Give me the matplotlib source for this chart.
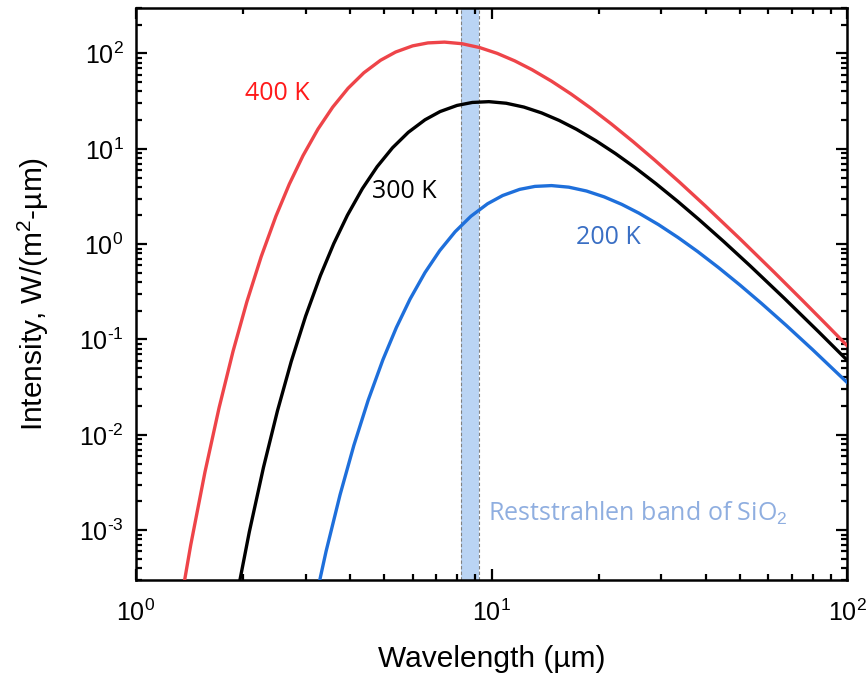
import matplotlib
matplotlib.use("Agg")
import matplotlib.pyplot as plt
from matplotlib.ticker import FixedLocator, NullFormatter, FuncFormatter
import math

# ---- data ----
wl_400 = [1.3, 1.425, 1.5625, 1.7125, 1.875, 2.05, 2.25, 2.475, 2.7, 2.95, 3.25, 3.575,
          3.95, 4.375, 4.875, 5.375, 6.0, 6.625, 7.375, 8.25, 9.25, 10.375, 11.625, 13.0,
          14.75, 16.75, 19.0, 21.75, 25.0, 28.75, 33.75, 40.0, 50.0, 62.5, 75.0, 87.5, 100.0]
I_400 = [9.70e-5, 6.94e-4, 4.04e-3, 1.918e-2, 7.526e-2, 0.2478, 0.7401, 1.965, 4.271, 8.483,
         16.11, 27.35, 43.18, 62.76, 84.93, 103.6, 120.2, 129.1, 131.6, 126.7, 115.5, 100.3,
         83.66, 67.60, 51.25, 37.53, 26.80, 18.19, 11.92, 7.637, 4.490, 2.507, 1.137, 0.5043,
         0.2562, 0.1435, 0.08643]

wl_300 = [1.7333, 1.9, 2.0833, 2.2833, 2.5, 2.7333, 3.0, 3.3, 3.6, 3.9333, 4.3333, 4.7667,
          5.2667, 5.8333, 6.5, 7.1667, 8.0, 8.8333, 9.8333, 11.0, 12.333, 13.833, 15.5,
          17.333, 19.667, 22.333, 25.333, 29.0, 33.333, 38.333, 45.0, 53.333, 66.667,
          83.333, 100.0]
I_300 = [2.302e-5, 1.647e-4, 9.583e-4, 4.551e-3, 1.786e-2, 5.880e-2, 0.1756, 0.4664, 1.0135,
         2.013, 3.823, 6.491, 10.25, 14.89, 20.15, 24.59, 28.52, 30.65, 31.24, 30.07, 27.41,
         23.80, 19.85, 16.04, 12.16, 8.905, 6.358, 4.316, 2.828, 1.812, 1.0656, 0.5948,
         0.2698, 0.1197, 0.0608]

wl_200 = [2.6, 2.85, 3.125, 3.425, 3.75, 4.1, 4.5, 4.95, 5.4, 5.9, 6.5, 7.15, 7.9, 8.75,
          9.75, 10.75, 12.0, 13.25, 14.75, 16.5, 18.5, 20.75, 23.25, 26.0, 29.5, 33.5, 38.0,
          43.5, 50.0, 57.5, 67.5, 80.0, 100.0]
I_200 = [3.031e-6, 2.169e-5, 1.262e-4, 5.993e-4, 2.352e-3, 7.742e-3, 2.313e-2, 6.141e-2,
         0.1335, 0.2651, 0.5033, 0.8547, 1.349, 1.961, 2.654, 3.237, 3.755, 4.035, 4.114,
         3.960, 3.609, 3.133, 2.614, 2.112, 1.602, 1.172, 0.8372, 0.5683, 0.3723, 0.2386,
         0.1403, 0.07832, 0.03552]

band = [8.2, 9.25]
labels = ["400 K", "300 K", "200 K"]
x_major = [1, 10, 100]
y_major = [1e-3, 1e-2, 1e-1, 1, 10, 100]

# ---- figure ----
plt.rcParams['font.family'] = ['Liberation Sans', 'DejaVu Sans']
plt.rcParams['mathtext.fontset'] = 'custom'
plt.rcParams['mathtext.rm'] = 'Liberation Sans'
plt.rcParams['mathtext.it'] = 'Liberation Sans:italic'

fig = plt.figure(figsize=(8.68, 6.75), dpi=100)
ax = fig.add_axes([136/868, 1 - 580/675, (847-136)/868, (580-8)/675])

ax.axvspan(band[0], band[1], facecolor='#BAD4F4', edgecolor='none', zorder=1)
for b in band:
    ax.axvline(b, color='#808080', lw=0.8, ls=(0, (3, 2)), zorder=1.5)

ax.plot(wl_400, I_400, color='#EE4449', lw=2.4, zorder=3)
ax.plot(wl_300, I_300, color='#000000', lw=2.4, zorder=3)
ax.plot(wl_200, I_200, color='#1E6FDB', lw=2.4, zorder=3)

ax.set_xscale('log')
ax.set_yscale('log')
ax.set_xlim(1, 100)
ax.set_ylim(3e-4, 300)


def fmt(v, pos):
    e = int(round(math.log10(v)))
    if e < 0:
        return r'$\mathdefault{10^{\text{-}%d}}$' % (-e)
    return r'$\mathdefault{10^{%d}}$' % e


x_minor = [m * d for d in (1, 10) for m in range(2, 10)]
y_minor = [m * d for d in (1e-4, 1e-3, 1e-2, 1e-1, 1, 10, 100) for m in range(2, 10)
           if 3e-4 <= m * d <= 300]

ax.xaxis.set_major_locator(FixedLocator(x_major))
ax.xaxis.set_minor_locator(FixedLocator(x_minor))
ax.yaxis.set_major_locator(FixedLocator(y_major))
ax.yaxis.set_minor_locator(FixedLocator(y_minor))
ax.xaxis.set_major_formatter(FuncFormatter(fmt))
ax.yaxis.set_major_formatter(FuncFormatter(fmt))
ax.xaxis.set_minor_formatter(NullFormatter())
ax.yaxis.set_minor_formatter(NullFormatter())

ax.tick_params(which='both', direction='in', top=True, right=True, width=1.6, labelsize=18)
ax.tick_params(which='major', length=8)
ax.tick_params(which='minor', length=4.5)
ax.tick_params(axis='x', which='major', pad=14)
ax.tick_params(axis='y', which='major', pad=9)
for s in ax.spines.values():
    s.set_linewidth(1.8)

ax.set_xlabel('Wavelength (\u00b5m)', fontsize=21.5, labelpad=14)
ax.set_ylabel('Intensity, W/(m$^{2}$-\u00b5m)', fontsize=21.5, labelpad=20)

afont = ['Open Sans', 'DejaVu Sans']
ax.text(2.03, 38, labels[0], color='#FF1A1A', fontsize=18, family=afont, ha='left', va='center')
ax.text(4.61, 3.6, labels[1], color='#000000', fontsize=18, family=afont, ha='left', va='center')
ax.text(17.3, 1.17, labels[2], color='#3A6FC4', fontsize=18, family=afont, ha='left', va='center')
ax.text(9.78, 1.5e-3, 'Reststrahlen band of SiO$_2$', color='#8FAEE0', fontsize=18,
        family=afont, ha='left', va='center')

fig.savefig('out.png', dpi=100)
